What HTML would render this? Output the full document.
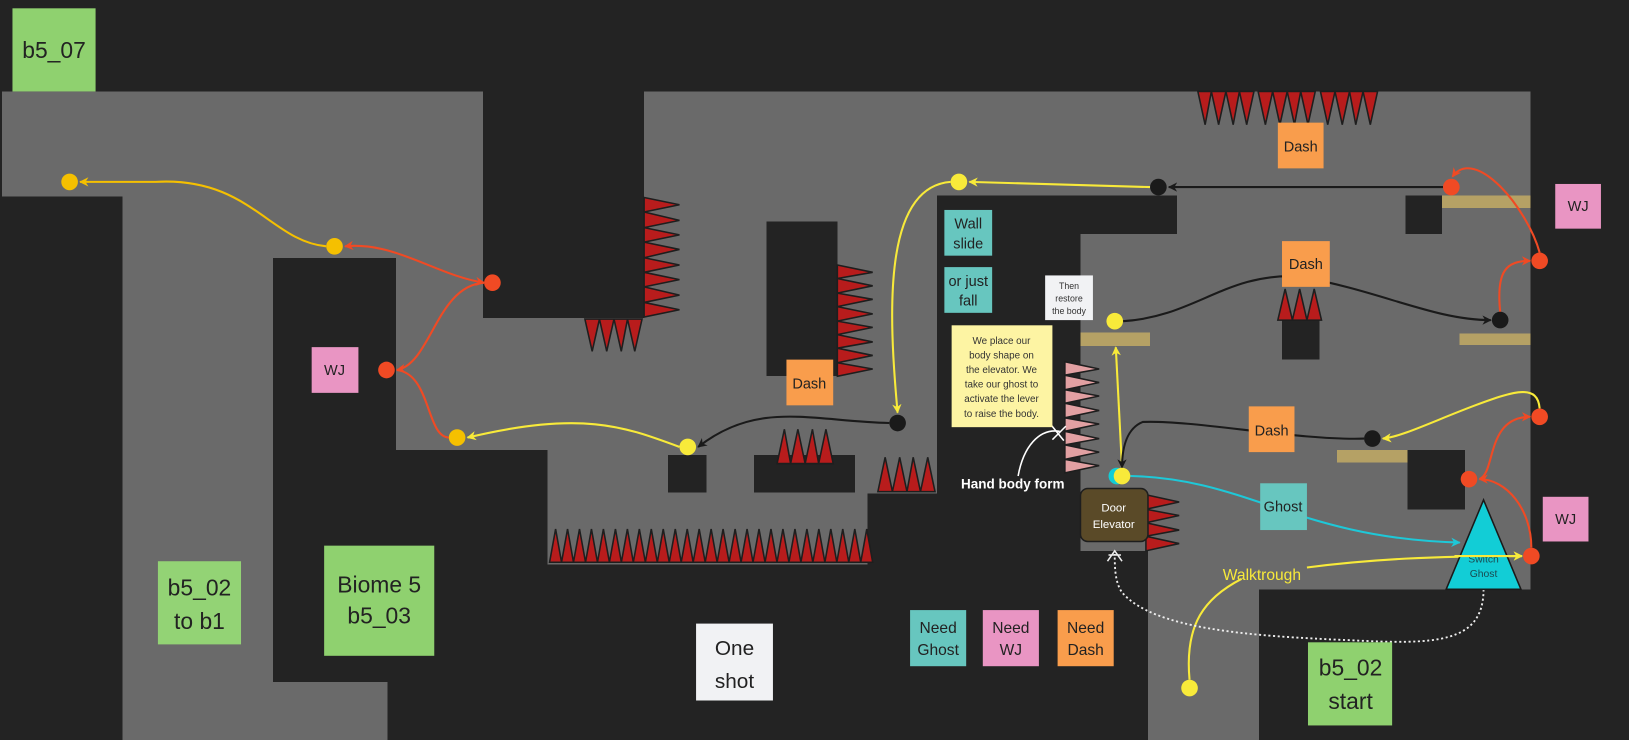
<!DOCTYPE html>
<html><head><meta charset="utf-8">
<style>
html,body{margin:0;padding:0;background:#232323;}
svg{display:block;}
text{font-family:"Liberation Sans",sans-serif;}
</style></head>
<body>
<svg width="1629" height="740" viewBox="0 0 1568 712" preserveAspectRatio="none" xmlns="http://www.w3.org/2000/svg">
<defs>
<marker id="aY" viewBox="0 0 10 10" refX="9" refY="5" markerWidth="9" markerHeight="9" orient="auto-start-reverse" markerUnits="userSpaceOnUse"><path d="M0,0 L10,5 L0,10 L3,5 Z" fill="#f8ea3a"/></marker>
<marker id="aO" viewBox="0 0 10 10" refX="9" refY="5" markerWidth="9" markerHeight="9" orient="auto-start-reverse" markerUnits="userSpaceOnUse"><path d="M0,0 L10,5 L0,10 L3,5 Z" fill="#f5c000"/></marker>
<marker id="aR" viewBox="0 0 10 10" refX="9" refY="5" markerWidth="9" markerHeight="9" orient="auto-start-reverse" markerUnits="userSpaceOnUse"><path d="M0,0 L10,5 L0,10 L3,5 Z" fill="#f04a24"/></marker>
<marker id="aK" viewBox="0 0 10 10" refX="9" refY="5" markerWidth="9" markerHeight="9" orient="auto-start-reverse" markerUnits="userSpaceOnUse"><path d="M0,0 L10,5 L0,10 L3,5 Z" fill="#1a1a1a"/></marker>
<marker id="aC" viewBox="0 0 10 10" refX="9" refY="5" markerWidth="9" markerHeight="9" orient="auto-start-reverse" markerUnits="userSpaceOnUse"><path d="M0,0 L10,5 L0,10 L3,5 Z" fill="#1ec8d8"/></marker>
</defs>
<rect width="1568" height="712" fill="#232323"/>
<!-- gray areas -->
<g fill="#6a6a6a" shape-rendering="crispEdges">
<rect x="2" y="88" width="464" height="101"/>
<rect x="118" y="187" width="146" height="525"/>
<rect x="262" y="655" width="111" height="57"/>
<rect x="262" y="187" width="1211" height="247"/>
<rect x="620" y="88" width="853" height="101"/>
<rect x="527" y="432" width="309" height="111"/>
<rect x="834" y="432" width="68" height="43"/>
<rect x="1040" y="432" width="433" height="135"/>
<rect x="1105" y="529" width="107" height="183"/>
</g>
<!-- dark blocks -->
<g fill="#232323" shape-rendering="crispEdges">
<rect x="465" y="88" width="155" height="218"/>
<rect x="263" y="248" width="118" height="408"/>
<rect x="381" y="433" width="146" height="279"/>
<rect x="738" y="213" width="68" height="149"/>
<rect x="643" y="438" width="37" height="36"/>
<rect x="726" y="438" width="97" height="36"/>
<rect x="902" y="188" width="231" height="37"/>
<rect x="902" y="225" width="138" height="487"/>
<rect x="835" y="475" width="205" height="237"/>
<rect x="1040" y="530" width="65" height="182"/>
<rect x="1353" y="188" width="35" height="37"/>
<rect x="1234" y="308" width="36" height="38"/>
<rect x="1355" y="433" width="55" height="57"/>
<rect x="1212" y="567" width="356" height="145"/>
</g>
<!-- platforms -->
<g fill="#b5a165" shape-rendering="crispEdges">
<rect x="1388" y="188" width="85" height="12"/>
<rect x="1405" y="321" width="68" height="11"/>
<rect x="1040" y="320" width="67" height="13"/>
<rect x="1287" y="433" width="68" height="12"/>
</g>
<!-- spikes -->
<g fill="#b81c1c" stroke="#1e1e1e" stroke-width="1.5" stroke-linejoin="miter">
<path d="M1153,88 L1160,120 L1166,88 L1173,120 L1180,88 L1187,120 L1193,88 L1200,120 L1207,88 Z"/>
<path d="M1211,88 L1218,120 L1225,88 L1232,120 L1239,88 L1246,120 L1252,88 L1259,120 L1266,88 Z"/>
<path d="M1271,88 L1278,120 L1285,88 L1292,120 L1299,88 L1305,120 L1312,88 L1319,120 L1326,88 Z"/>
<path d="M620,190 L654,197 L620,204 L654,212 L620,219 L654,226 L620,233 L654,240 L620,248 L654,255 L620,262 L654,269 L620,276 L654,284 L620,291 L654,298 L620,305 Z"/>
<path d="M563,307 L570,338 L577,307 L584,338 L591,307 L598,338 L604,307 L611,338 L618,307 Z"/>
<path d="M806,255 L840,262 L806,268 L840,275 L806,282 L840,288 L806,295 L840,302 L806,309 L840,315 L806,322 L840,329 L806,335 L840,342 L806,349 L840,355 L806,362 Z"/>
<path d="M748,446 L755,413 L761,446 L768,413 L775,446 L782,413 L788,446 L795,413 L802,446 Z"/>
<path d="M845,473 L852,440 L859,473 L866,440 L873,473 L879,440 L886,473 L893,440 L900,473 Z"/>
<path d="M529,541 L534.8,509 L540.5,541 L546.3,509 L552,541 L557.8,509 L563.6,541 L569.3,509 L575.1,541 L580.8,509 L586.6,541 L592.4,509 L598.1,541 L603.9,509 L609.6,541 L615.4,509 L621.2,541 L626.9,509 L632.7,541 L638.4,509 L644.2,541 L650,509 L655.7,541 L661.5,509 L667.2,541 L673,509 L678.8,541 L684.5,509 L690.3,541 L696,509 L701.8,541 L707.6,509 L713.3,541 L719.1,509 L724.8,541 L730.6,509 L736.4,541 L742.1,509 L747.9,541 L753.6,509 L759.4,541 L765.2,509 L770.9,541 L776.7,509 L782.4,541 L788.2,509 L794,541 L799.7,509 L805.5,541 L811.2,509 L817,541 L822.8,509 L828.5,541 L834.3,509 L840,541 Z"/>
<path d="M1230,308 L1237,278 L1244,308 L1251,278 L1258,308 L1265,278 L1272,308 Z"/>
<path d="M1103,476 L1135,483 L1103,490 L1135,496 L1103,503 L1135,510 L1103,516 L1135,523 L1103,530 Z"/>
<path fill="#e2a0a2" d="M1025,348 L1058,355 L1025,361 L1058,368 L1025,375 L1058,381 L1025,388 L1058,395 L1025,402 L1058,408 L1025,415 L1058,422 L1025,428 L1058,435 L1025,442 L1058,448 L1025,455 Z"/>
</g>
<!-- connectors -->
<g fill="none" stroke-width="2">
<path d="M314,237 C260,232 240,170 150,175 L77,175" stroke="#f5c000" marker-end="url(#aO)"/>
<path d="M466,272 C420,265 380,232 332,237" stroke="#f04a24" marker-end="url(#aR)" marker-start="url(#aR)"/>
<path d="M466,272 C420,275 415,350 382,356" stroke="#f04a24" marker-end="url(#aR)"/>
<path d="M432,421 C410,420 415,360 382,356" stroke="#f04a24"/>
<path d="M654,430 C600,410 560,395 450,421" stroke="#f8ea3a" marker-end="url(#aY)"/>
<path d="M856,407 C780,405 730,385 672,430" stroke="#1a1a1a" marker-end="url(#aK)"/>
<path d="M915,175 C850,180 855,300 864,397" stroke="#f8ea3a" marker-end="url(#aY)"/>
<path d="M1107,180 L933,175" stroke="#f8ea3a" marker-end="url(#aY)"/>
<path d="M1389,180 L1125,180" stroke="#1a1a1a" marker-end="url(#aK)"/>
<path d="M1482,243 C1470,200 1420,140 1398,170" stroke="#f04a24" marker-end="url(#aR)"/>
<path d="M1444,300 C1440,260 1450,251 1473,251" stroke="#f04a24" marker-end="url(#aR)"/>
<path d="M1081,309 C1150,305 1180,262 1250,266 C1330,280 1380,308 1435,308" stroke="#1a1a1a" marker-end="url(#aK)"/>
<path d="M1080,450 L1074,334" stroke="#f8ea3a" marker-end="url(#aY)"/>
<path d="M1313,422 C1250,424 1150,404 1100,406 C1085,412 1080,430 1080,450" stroke="#1a1a1a" marker-end="url(#aK)"/>
<path d="M1482,393 C1480,370 1460,375 1420,390 C1380,405 1350,420 1331,422" stroke="#f8ea3a" marker-end="url(#aY)"/>
<path d="M1474,527 C1474,490 1450,461 1424,461" stroke="#f04a24" marker-end="url(#aR)"/>
<path d="M1424,461 C1440,455 1430,401 1473,401" stroke="#f04a24" marker-end="url(#aR)"/>
<path d="M1088,458 C1200,460 1250,518 1405,522" stroke="#1ec8d8" marker-end="url(#aC)"/>
<path d="M1145,654 C1140,600 1160,575 1195,557" stroke="#f8ea3a"/>
<path d="M1258,546 C1320,538 1380,535 1465,535" stroke="#f8ea3a" marker-end="url(#aY)"/>
<path d="M1428,567 C1428,620 1380,620 1300,616 C1200,612 1110,605 1080,570 C1073,560 1073,545 1073,533" stroke="#eee" stroke-dasharray="2,2.5" stroke-width="1.8"/>
<path d="M1066,540 L1073,530 L1080,540 M1067,534 L1079,534" stroke="#eee" stroke-width="1.5"/>
<path d="M980,458 C985,430 1000,412 1020,415" stroke="#fff" stroke-width="1.5"/>
<path d="M1011,408 L1024,424 M1013,423 L1026,410" stroke="#fff" stroke-width="1.5"/>
</g>
<!-- sticky notes -->
<g font-size="22" fill="#222" text-anchor="middle">
<rect x="12" y="8" width="80" height="80" fill="#8fd16f"/>
<text x="52" y="56">b5_07</text>
<rect x="152" y="540" width="80" height="80" fill="#93d375"/>
<text x="192" y="573">b5_02</text><text x="192" y="605">to b1</text>
<rect x="312" y="525" width="106" height="106" fill="#8fd16f"/>
<text x="365" y="570">Biome 5</text><text x="365" y="600">b5_03</text>
<rect x="1259" y="618" width="81" height="80" fill="#8fd16f"/>
<text x="1300" y="650">b5_02</text><text x="1300" y="682">start</text>
<rect x="670" y="600" width="74" height="74" fill="#f1f2f4"/>
<text x="707" y="630" font-size="20">One</text><text x="707" y="662" font-size="20">shot</text>
</g>
<g font-size="14" fill="#222" text-anchor="middle">
<rect x="300" y="334" width="45" height="44" fill="#e995c3"/><text x="322" y="361">WJ</text>
<rect x="1497" y="177" width="44" height="43" fill="#e995c3"/><text x="1519" y="203">WJ</text>
<rect x="1485" y="478" width="44" height="43" fill="#e995c3"/><text x="1507" y="504">WJ</text>
<rect x="876" y="587" width="54" height="54" fill="#67c6bf"/><text x="903" y="609" font-size="15">Need</text><text x="903" y="630" font-size="15">Ghost</text>
<rect x="946" y="587" width="54" height="54" fill="#e995c3"/><text x="973" y="609" font-size="15">Need</text><text x="973" y="630" font-size="15">WJ</text>
<rect x="1018" y="587" width="54" height="54" fill="#f99d4c"/><text x="1045" y="609" font-size="15">Need</text><text x="1045" y="630" font-size="15">Dash</text>
<rect x="1230" y="118" width="44" height="44" fill="#f99d4c"/><text x="1252" y="146">Dash</text>
<rect x="1234" y="232" width="46" height="44" fill="#f99d4c"/><text x="1257" y="259">Dash</text>
<rect x="757" y="346" width="45" height="44" fill="#f99d4c"/><text x="779" y="374">Dash</text>
<rect x="1202" y="391" width="44" height="44" fill="#f99d4c"/><text x="1224" y="419">Dash</text>
<rect x="909" y="202" width="46" height="44" fill="#67c6bf"/><text x="932" y="220">Wall</text><text x="932" y="239">slide</text>
<rect x="909" y="257" width="46" height="44" fill="#67c6bf"/><text x="932" y="275">or just</text><text x="932" y="294">fall</text>
<rect x="1213" y="465" width="45" height="45" fill="#67c6bf"/><text x="1235" y="492">Ghost</text>
</g>
<rect x="1006" y="265" width="46" height="43" fill="#f1f2f4"/>
<g font-size="8.5" fill="#333" text-anchor="middle"><text x="1029" y="278">Then</text><text x="1029" y="290">restore</text><text x="1029" y="302">the body</text></g>
<rect x="916" y="313" width="97" height="98" fill="#fdf4a3"/>
<g font-size="9.5" fill="#333" text-anchor="middle">
<text x="964" y="331">We place our</text><text x="964" y="345">body shape on</text><text x="964" y="359">the elevator. We</text><text x="964" y="373">take our ghost to</text><text x="964" y="387">activate the lever</text><text x="964" y="401">to raise the body.</text>
</g>
<!-- door elevator -->
<rect x="1040" y="470" width="65" height="51" rx="7" fill="#5a4a28" stroke="#1e1e1e" stroke-width="1.5"/>
<g font-size="11" fill="#fff" text-anchor="middle"><text x="1072" y="492">Door</text><text x="1072" y="508">Elevator</text></g>
<!-- switch ghost -->
<path d="M1392,567 L1428,481 L1464,567 Z" fill="#12cdd6" stroke="#1a1a1a" stroke-width="1.5"/>
<g font-size="10" fill="#1a4a50" text-anchor="middle"><text x="1428" y="541">Switch</text><text x="1428" y="555">Ghost</text></g>
<path d="M1400,535 L1465,535" stroke="#f8ea3a" stroke-width="2" fill="none" marker-end="url(#aY)"/>
<!-- dots -->
<g fill="#f5c000"><circle cx="67" cy="175" r="8"/><circle cx="322" cy="237" r="8"/><circle cx="440" cy="421" r="8"/></g>
<g fill="#f04a24"><circle cx="474" cy="272" r="8"/><circle cx="372" cy="356" r="8"/><circle cx="1397" cy="180" r="8"/><circle cx="1482" cy="251" r="8"/><circle cx="1482" cy="401" r="8"/><circle cx="1414" cy="461" r="8"/><circle cx="1474" cy="535" r="8"/></g>
<circle cx="1075" cy="458" r="8" fill="#12cdd6"/>
<g fill="#f8ea3a"><circle cx="662" cy="430" r="8"/><circle cx="923" cy="175" r="8"/><circle cx="1073" cy="309" r="8"/><circle cx="1080" cy="458" r="8"/><circle cx="1145" cy="662" r="8"/></g>
<g fill="#1a1a1a"><circle cx="1115" cy="180" r="8"/><circle cx="864" cy="407" r="8"/><circle cx="1444" cy="308" r="8"/><circle cx="1321" cy="422" r="8"/></g>
<!-- labels -->
<text x="925" y="470" font-size="13" font-weight="bold" fill="#fff">Hand body form</text>
<text x="1177" y="558" font-size="15" fill="#f8ea3a">Walktrough</text>
</svg>
</body></html>
